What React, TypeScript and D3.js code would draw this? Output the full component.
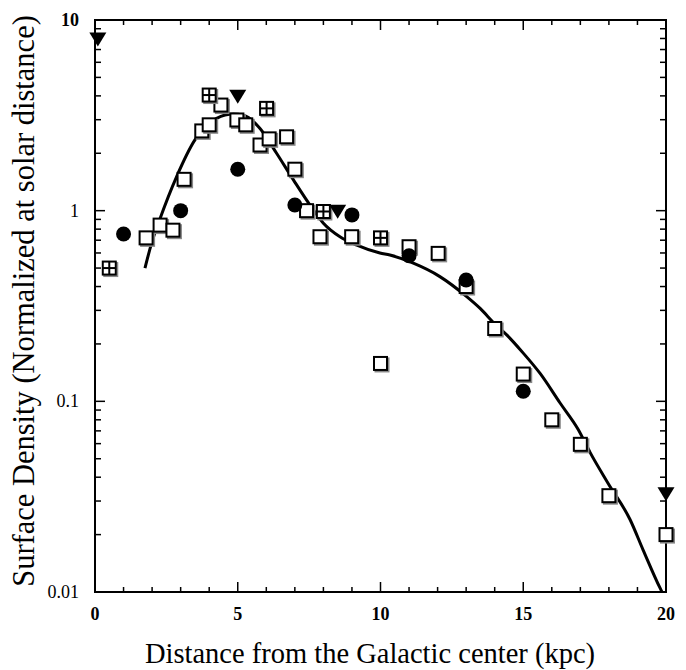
import React from "react";
import * as d3 from "d3";

const squareX = [1.79, 2.28, 2.73, 3.12, 3.74, 4.0, 4.41, 4.97, 5.28, 5.78, 6.1, 6.71, 7.0, 7.41, 7.88, 8.99, 11.0, 12.02, 13.0, 14.0, 10.0, 15.0, 16.0, 17.0, 18.0, 20.0];
const squareY = [0.72, 0.84, 0.79, 1.46, 2.62, 2.82, 3.58, 2.99, 2.82, 2.21, 2.38, 2.44, 1.65, 1.0, 0.73, 0.73, 0.647, 0.597, 0.40, 0.241, 0.158, 0.139, 0.08, 0.0595, 0.032, 0.02];

const crossX = [0.5, 4.0, 6.01, 8.0, 10.0];
const crossY = [0.5, 4.04, 3.44, 0.99, 0.72];

const circleX = [1, 3, 5, 7, 9, 11, 13, 15];
const circleY = [0.755, 1.0, 1.65, 1.07, 0.95, 0.58, 0.433, 0.113];

const triX = [0.1, 5, 8.5, 20];
const triY = [8.0, 4.0, 1.0, 0.033];

const curveX = [1.75, 1.98, 2.28, 2.86, 3.5, 4.26, 4.85, 5.2, 5.78, 6.36, 6.95, 7.53, 8.0, 8.58, 9.17, 9.98, 10.33, 11.15, 12.08, 13.02, 13.49, 14.0, 14.42, 15.0, 15.59, 16.29, 16.93, 17.34, 17.98, 18.74, 19.2, 19.79, 19.86];
const curveY = [0.5, 0.674, 0.91, 1.51, 2.35, 3.05, 3.21, 3.17, 2.7, 2.0, 1.45, 1.07, 0.86, 0.73, 0.66, 0.6, 0.585, 0.53, 0.451, 0.354, 0.307, 0.255, 0.223, 0.179, 0.14, 0.098, 0.071, 0.054, 0.037, 0.024, 0.0166, 0.0105, 0.01];

const xTickLabels = ["0", "5", "10", "15", "20"];
const xTickValues = [0, 5, 10, 15, 20];
const yTickValues = [0.01, 0.1, 1, 10];
const yTickLabels = ["0.01", "0.1", "1", "10"];

const W = 686, H = 670;
const L = 95, R = 666, T = 20, B = 592;

export default function App() {
  const x = d3.scaleLinear().domain([0, 20]).range([L, R]);
  const y = d3.scaleLog().domain([0.01, 10]).range([B, T]);

  const minorX = d3.range(0, 21, 1);
  const minorY: number[] = [];
  for (let e = -2; e < 1; e++) for (let m = 1; m < 10; m++) minorY.push(m * Math.pow(10, e));
  minorY.push(10);

  const line = d3.line<number>().x((_, i) => x(curveX[i])).y((_, i) => y(curveY[i])).curve(d3.curveMonotoneX);

  const sq = 13;
  const serif = "'Liberation Serif', 'DejaVu Serif', serif";

  return (
    <svg width={W} height={H} style={{ position: "absolute", left: 0, top: 0, background: "#fff" }}>
      <rect x={0} y={0} width={W} height={H} fill="#fff" />
      {/* ticks */}
      {minorX.map((v) => {
        const major = v % 5 === 0;
        const len = major ? 10 : 5;
        return (
          <g key={"xt" + v} stroke="#000" strokeWidth={1.5}>
            <line x1={x(v)} x2={x(v)} y1={B} y2={B - len} />
            <line x1={x(v)} x2={x(v)} y1={T} y2={T + len} />
          </g>
        );
      })}
      {minorY.map((v, i) => {
        const major = yTickValues.some((t) => Math.abs(t - v) < 1e-9);
        const len = major ? 10 : 6;
        return (
          <g key={"yt" + i} stroke="#000" strokeWidth={1.5}>
            <line x1={L} x2={L + len} y1={y(v)} y2={y(v)} />
            <line x1={R} x2={R - len} y1={y(v)} y2={y(v)} />
          </g>
        );
      })}
      <rect x={L} y={T} width={R - L} height={B - T} fill="none" stroke="#000" strokeWidth={2} />

      {/* tick labels */}
      {xTickValues.map((v, i) => (
        <text key={"xl" + v} x={x(v)} y={620} textAnchor="middle" fontFamily={serif} fontWeight="bold" fontSize={18}>
          {xTickLabels[i]}
        </text>
      ))}
      {yTickValues.map((v, i) => (
        <text key={"yl" + v} x={79} y={y(v) + 6} textAnchor="end" fontFamily={serif} fontWeight={i === 3 ? "bold" : "normal"} fontSize={18}>
          {yTickLabels[i]}
        </text>
      ))}

      {/* axis titles */}
      <text x={370} y={663} textAnchor="middle" fontFamily={serif} fontSize={28.5}>
        Distance from the Galactic center (kpc)
      </text>
      <text transform={`translate(34,301) rotate(-90)`} textAnchor="middle" fontFamily={serif} fontSize={30.5}>
        Surface Density (Normalized at solar distance)
      </text>

      {/* curve */}
      <path d={line(curveX) || ""} fill="none" stroke="#000" strokeWidth={3} strokeLinejoin="round" />

      {/* open squares */}
      {squareX.map((v, i) => {
        const cx = x(v), cy = y(squareY[i]);
        return (
          <g key={"sq" + i}>
            <rect x={cx - sq / 2 + 1.5} y={cy - sq / 2 + 1.5} width={sq} height={sq} fill="none" stroke="#888" strokeWidth={2} />
            <rect x={cx - sq / 2} y={cy - sq / 2} width={sq} height={sq} fill="#fff" stroke="#000" strokeWidth={2} />
          </g>
        );
      })}
      {/* cross squares */}
      {crossX.map((v, i) => {
        const cx = x(v), cy = y(crossY[i]);
        return (
          <g key={"cs" + i}>
            <rect x={cx - sq / 2 + 1.5} y={cy - sq / 2 + 1.5} width={sq} height={sq} fill="none" stroke="#888" strokeWidth={2} />
            <rect x={cx - sq / 2} y={cy - sq / 2} width={sq} height={sq} fill="#fff" stroke="#000" strokeWidth={2} />
            <line x1={cx} x2={cx} y1={cy - sq / 2} y2={cy + sq / 2} stroke="#000" strokeWidth={2} />
            <line x1={cx - sq / 2} x2={cx + sq / 2} y1={cy} y2={cy} stroke="#000" strokeWidth={2} />
          </g>
        );
      })}
      {/* filled circles */}
      {circleX.map((v, i) => (
        <circle key={"c" + i} cx={x(v)} cy={y(circleY[i])} r={7.5} fill="#000" />
      ))}
      {/* triangles */}
      {triX.map((v, i) => {
        const cx = x(v), cy = y(triY[i]);
        const p = d3.path();
        p.moveTo(cx - 8.5, cy - 6);
        p.lineTo(cx + 8.5, cy - 6);
        p.lineTo(cx, cy + 8);
        p.closePath();
        return <path key={"t" + i} d={p.toString()} fill="#000" />;
      })}
    </svg>
  );
}
